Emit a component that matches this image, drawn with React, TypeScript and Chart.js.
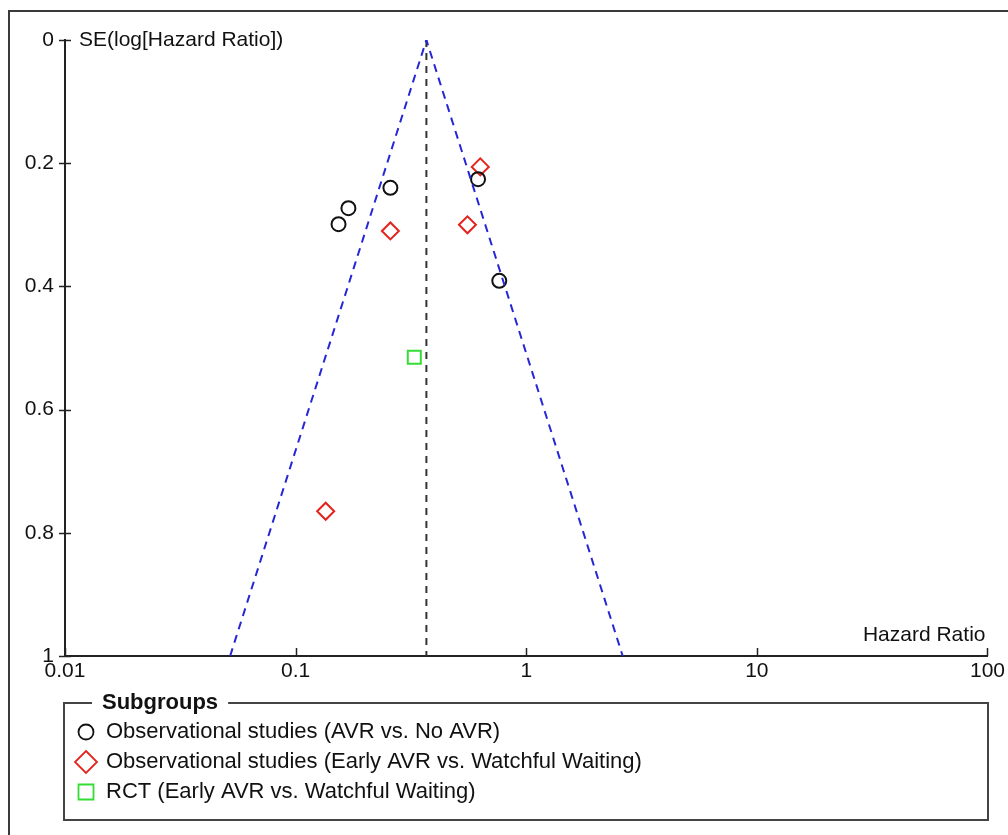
import React, { useEffect, useRef } from "react";
import { Chart, registerables } from "chart.js";

Chart.register(...registerables);

// ---- data ----
const funnelHR = [0.052, 0.369, 2.62];
const funnelSE = [1, 0, 1];
const centerHR = [0.369, 0.369];
const centerSE = [0, 1];

const obsAvrHR = [0.1535, 0.1694, 0.2576, 0.618, 0.764];
const obsAvrSE = [0.299, 0.273, 0.24, 0.226, 0.391];

const obsEarlyHR = [0.632, 0.556, 0.2576, 0.135];
const obsEarlySE = [0.206, 0.3, 0.31, 0.765];

const rctHR = [0.327];
const rctSE = [0.515];

const xTickValues = [0.01, 0.1, 1, 10, 100];
const xTickLabels = ["0.01", "0.1", "1", "10", "100"];
const yTickValues = [0, 0.2, 0.4, 0.6, 0.8, 1];
const yTickLabels = ["0", "0.2", "0.4", "0.6", "0.8", "1"];

const seriesLabels = [
  "Observational studies (AVR vs. No AVR)",
  "Observational studies (Early AVR vs. Watchful Waiting)",
  "RCT (Early AVR vs. Watchful Waiting)",
];
const legendTitle = "Subgroups";
const yAxisTitle = "SE(log[Hazard Ratio])";
const xAxisTitle = "Hazard Ratio";

const FONT = "'Liberation Sans', Arial, Helvetica, sans-serif";

const toPoints = (xs: number[], ys: number[]) => xs.map((x, i) => ({ x, y: ys[i] }));

const decorPlugin = {
  id: "funnelDecor",
  afterDraw(chart: any) {
    const ctx: CanvasRenderingContext2D = chart.ctx;
    const xs = chart.scales.x;
    const ys = chart.scales.y;
    ctx.save();

    // outer frame
    ctx.strokeStyle = "#3a3a3a";
    ctx.lineWidth = 2;
    ctx.strokeRect(9, 11, 1100, 1000);

    // tick marks
    ctx.strokeStyle = "#222";
    ctx.lineWidth = 1.5;
    xTickValues.forEach((v) => {
      const px = Math.round(xs.getPixelForValue(v)) + 0.5;
      ctx.beginPath();
      ctx.moveTo(px, xs.top - 8);
      ctx.lineTo(px, xs.top);
      ctx.stroke();
    });
    yTickValues.forEach((v) => {
      const py = Math.round(ys.getPixelForValue(v)) + 0.5;
      ctx.beginPath();
      ctx.moveTo(ys.right - 6, py);
      ctx.lineTo(ys.right + 6, py);
      ctx.stroke();
    });

    // axis titles
    ctx.fillStyle = "#111";
    ctx.font = `21px ${FONT}`;
    ctx.textBaseline = "middle";
    ctx.textAlign = "left";
    ctx.fillText(yAxisTitle, ys.right + 14, ys.getPixelForValue(0));
    ctx.textAlign = "right";
    ctx.fillText(xAxisTitle, xs.right - 2, xs.top - 21);

    // legend box
    const lx = 64, ly = 703, lw = 924, lh = 117;
    ctx.strokeStyle = "#444";
    ctx.lineWidth = 2;
    ctx.strokeRect(lx, ly, lw, lh);
    ctx.font = `bold 22px ${FONT}`;
    const tw = ctx.measureText(legendTitle).width;
    ctx.fillStyle = "#fff";
    ctx.fillRect(92, ly - 4, tw + 20, 8);
    ctx.fillStyle = "#111";
    ctx.textAlign = "left";
    ctx.fillText(legendTitle, 102, ly);

    ctx.font = `22px ${FONT}`;
    const rows = [732, 762, 792];
    const datasets = chart.data.datasets.filter((d: any) => d.inLegend);
    datasets.forEach((d: any, i: number) => {
      const cy = rows[i];
      const cx = 86;
      ctx.strokeStyle = d.borderColor;
      ctx.lineWidth = 1.8;
      ctx.beginPath();
      if (d.pointStyle === "circle") {
        ctx.arc(cx, cy, 7.5, 0, Math.PI * 2);
      } else if (d.pointStyle === "rectRot") {
        ctx.moveTo(cx, cy - 11);
        ctx.lineTo(cx + 11, cy);
        ctx.lineTo(cx, cy + 11);
        ctx.lineTo(cx - 11, cy);
        ctx.closePath();
      } else {
        ctx.rect(cx - 7.5, cy - 7.5, 15, 15);
      }
      ctx.stroke();
      ctx.fillStyle = "#111";
      ctx.fillText(d.label, 106, cy);
    });

    ctx.restore();
  },
};

export default function App() {
  const canvasRef = useRef<HTMLCanvasElement | null>(null);

  useEffect(() => {
    document.body.style.margin = "0";
    document.body.style.overflow = "hidden";
    const canvas = canvasRef.current;
    if (!canvas) return;
    const chart = new Chart(canvas, {
      type: "scatter",
      data: {
        datasets: [
          {
            label: "funnel",
            data: toPoints(funnelHR, funnelSE),
            showLine: true,
            borderColor: "#2626d6",
            borderWidth: 2,
            borderDash: [8, 6],
            pointRadius: 0,
            fill: false,
            tension: 0,
          } as any,
          {
            label: "pooled",
            data: toPoints(centerHR, centerSE),
            showLine: true,
            borderColor: "#333",
            borderWidth: 2,
            borderDash: [7, 6],
            pointRadius: 0,
            fill: false,
          },
          {
            label: seriesLabels[0],
            inLegend: true,
            data: toPoints(obsAvrHR, obsAvrSE),
            pointStyle: "circle",
            pointRadius: 7,
            borderColor: "#111",
            backgroundColor: "rgba(0,0,0,0)",
            pointBorderWidth: 2,
          },
          {
            label: seriesLabels[1],
            inLegend: true,
            data: toPoints(obsEarlyHR, obsEarlySE),
            pointStyle: "rectRot",
            pointRadius: 8.5,
            borderColor: "#e4231c",
            backgroundColor: "rgba(0,0,0,0)",
            pointBorderWidth: 2,
          },
          {
            label: seriesLabels[2],
            inLegend: true,
            data: toPoints(rctHR, rctSE),
            pointStyle: "rect",
            pointRadius: 9.2,
            borderColor: "#35dc35",
            backgroundColor: "rgba(0,0,0,0)",
            pointBorderWidth: 2,
          },
        ] as any,
      },
      options: {
        responsive: false,
        animation: false,
        devicePixelRatio: 1,
        layout: { padding: { top: 40, right: 19, left: 0, bottom: 0 } },
        plugins: {
          legend: { display: false },
          tooltip: { enabled: false },
        },
        scales: {
          x: {
            type: "logarithmic",
            position: "bottom",
            min: 0.01,
            max: 100,
            grid: { display: false, drawTicks: false },
            border: { display: true, color: "#222", width: 2 },
            ticks: {
              autoSkip: false,
              maxRotation: 0,
              padding: 3,
              color: "#111",
              font: { family: FONT, size: 21 },
              callback: (v: any) => {
                const i = xTickValues.indexOf(Number(v));
                return i >= 0 ? xTickLabels[i] : "";
              },
            },
            afterBuildTicks: (s: any) => {
              s.ticks = xTickValues.map((value) => ({ value }));
            },
            afterFit: (s: any) => {
              s.height = 835 - 656;
            },
          },
          y: {
            type: "linear",
            reverse: true,
            min: 0,
            max: 1,
            grid: { display: false, drawTicks: false },
            border: { display: true, color: "#222", width: 2 },
            ticks: {
              padding: 11,
              color: "#111",
              font: { family: FONT, size: 21 },
              callback: (v: any) => {
                const i = yTickValues.findIndex((t) => Math.abs(t - Number(v)) < 1e-9);
                return i >= 0 ? yTickLabels[i] : "";
              },
            },
            afterBuildTicks: (s: any) => {
              s.ticks = yTickValues.map((value) => ({ value }));
            },
            afterFit: (s: any) => {
              s.width = 65;
            },
          },
        },
      } as any,
      plugins: [decorPlugin],
    });
    return () => chart.destroy();
  }, []);

  return (
    <div style={{ position: "absolute", left: 0, top: 0, width: 1008, height: 835, background: "#fff" }}>
      <canvas ref={canvasRef} width={1008} height={835} style={{ display: "block", width: 1008, height: 835 }} />
    </div>
  );
}
